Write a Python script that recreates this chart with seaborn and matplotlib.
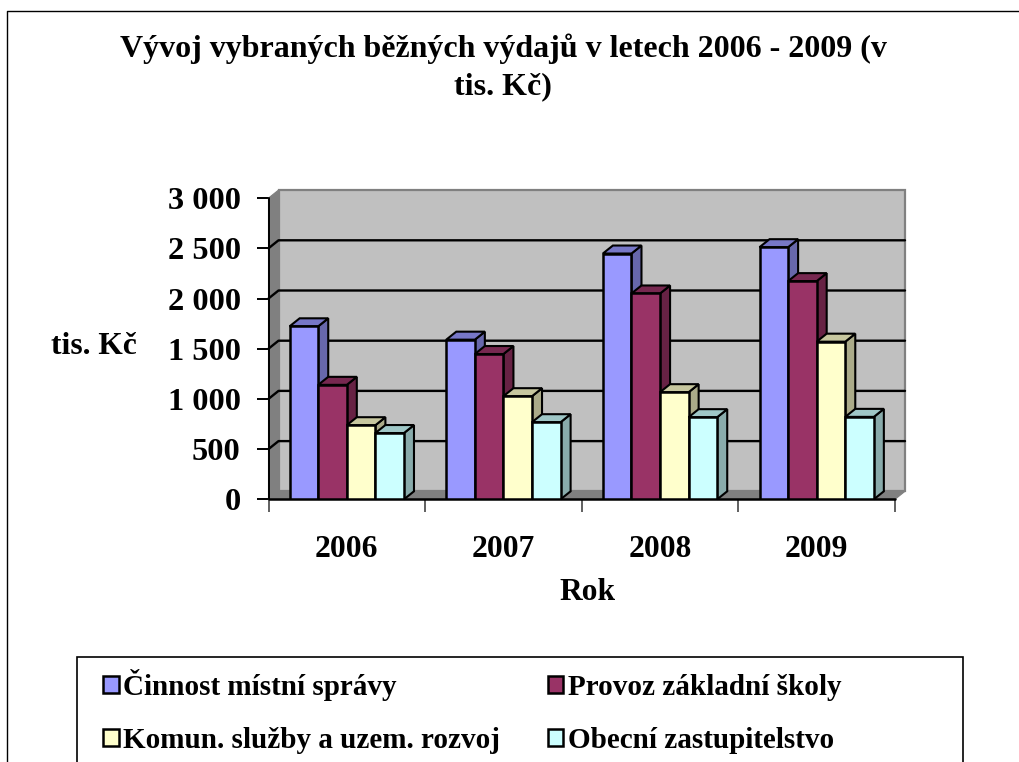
import pandas as pd
import numpy as np
import matplotlib.pyplot as plt
import seaborn as sns
from matplotlib.colors import to_rgb
from matplotlib.patches import Polygon, Rectangle
from matplotlib.lines import Line2D

roky = ['2006', '2007', '2008', '2009']
cinnost = [1723, 1590, 2448, 2511]
skola = [1140, 1447, 2050, 2173]
komun = [738, 1027, 1067, 1570]
zastupitelstvo = [660, 768, 818, 821]
nazvy = ['Činnost místní správy', 'Provoz základní školy',
         'Komun. služby a uzem. rozvoj', 'Obecní zastupitelstvo']
barvy = ['#9999FF', '#993366', '#FFFFCC', '#CCFFFF']
y_ticks = [0, 500, 1000, 1500, 2000, 2500, 3000]
y_labels = ['0', '500', '1 000', '1 500', '2 000', '2 500', '3 000']

W, H = 1019, 762

sns.set_theme(style='white')
plt.rcParams['font.family'] = ['Liberation Serif', 'DejaVu Serif']
plt.rcParams['font.weight'] = 'bold'
plt.rcParams['text.color'] = 'black'
plt.rcParams['xtick.labelcolor'] = 'black'
plt.rcParams['ytick.labelcolor'] = 'black'

df = pd.DataFrame({'rok': roky * 4,
                   'polozka': np.repeat(nazvy, 4),
                   'hodnota': cinnost + skola + komun + zastupitelstvo})

fig = plt.figure(figsize=(W / 100, H / 100), dpi=100)
ax = fig.add_axes([268.5 / W, 1 - 499.3 / H, 626.5 / W, 301.2 / H])

sns.barplot(data=df, x='rok', y='hodnota', hue='polozka', hue_order=nazvy,
            palette=barvy, width=0.73, gap=0, saturation=1, edgecolor='black',
            linewidth=1.8, ax=ax, zorder=5)
ax.set_xlim(-0.5, 3.5)
ax.set_ylim(0, 3000)
for s in ax.spines.values():
    s.set_visible(False)
ax.patch.set_visible(False)

# hloubka 3D efektu (10 px, 8 px)
dx = 10 / (626.5 / 4)
dy = 8 / (301.2 / 3000)


def plocha(body, barva, z, hrana='black', lw=1.5):
    ax.add_patch(Polygon(body, closed=True, facecolor=barva, edgecolor=hrana,
                         linewidth=lw, zorder=z, clip_on=False))


def ztmavit(barva, f):
    return tuple(c * f for c in to_rgb(barva))


# steny a podlaha
plocha([(-0.5 + dx, dy), (3.5 + dx, dy), (3.5 + dx, 3000 + dy), (-0.5 + dx, 3000 + dy)],
       '#C0C0C0', 1, hrana='#808080', lw=1.6)
plocha([(-0.5, 0), (-0.5 + dx, dy), (-0.5 + dx, 3000 + dy), (-0.5, 3000)],
       '#808080', 1, hrana='#808080', lw=0.8)
plocha([(-0.5, 0), (3.5, 0), (3.5 + dx, dy), (-0.5 + dx, dy)], '#808080', 1, hrana='#808080', lw=0.8)

for t in y_ticks[1:-1]:
    ax.add_line(Line2D([-0.5, -0.5 + dx, 3.5 + dx], [t, t + dy, t + dy], color='black',
                       linewidth=1.7, zorder=2, clip_on=False))
ax.add_line(Line2D([-0.5, -0.5], [0, 3000], color='black', linewidth=1.4, zorder=3, clip_on=False))
ax.add_line(Line2D([-0.5, 3.5], [0, 0], color='black', linewidth=1.8, zorder=3, clip_on=False))

# vrchni a bocni strany sloupcu, poradi zleva doprava
sloupce = []
for kontejner, barva in zip(ax.containers, barvy):
    for bar in kontejner:
        sloupce.append((bar, barva))
sloupce.sort(key=lambda s: s[0].get_x())
for i, (bar, barva) in enumerate(sloupce):
    z = 5 + i * 0.1
    x0 = bar.get_x()
    x1 = x0 + bar.get_width()
    v = bar.get_height()
    plocha([(x1, 0), (x1 + dx, dy), (x1 + dx, v + dy), (x1, v)], ztmavit(barva, 0.67), z)
    plocha([(x0, v), (x1, v), (x1 + dx, v + dy), (x0 + dx, v + dy)], ztmavit(barva, 0.78), z)
    bar.set_zorder(z + 0.05)

# osy
ax.set_yticks(y_ticks, y_labels)
ax.tick_params(axis='y', length=9, width=1.4, color='black', pad=11, labelsize=23.3, left=True)
ax.set_xticks(range(4), roky)
ax.tick_params(axis='x', which='major', length=0, pad=26, labelsize=22.7)
ax.set_xticks(np.arange(-0.5, 4), minor=True)
ax.tick_params(axis='x', which='minor', length=9, width=1.4, color='#606060', bottom=True)
ax.set_xlabel('')
ax.set_ylabel('')

fig.text(587 / W, 1 - 592 / H, 'Rok', ha='center', va='center', fontsize=22.7)
fig.text(93.5 / W, 1 - 346 / H, 'tis. Kč', ha='center', va='center', fontsize=22.7)
fig.text(503 / W, 1 - 67 / H,
         'Vývoj vybraných běžných výdajů v letech 2006 - 2009 (v\ntis. Kč)',
         ha='center', va='center', fontsize=23.05, linespacing=1.38)

# legenda, poradi po sloupcich
uchyty, popisky = ax.get_legend_handles_labels()
ax.get_legend().remove()
poradi = [0, 2, 1, 3]
fig.add_artist(Rectangle((77 / W, -0.01), 886 / W, 1 - 657 / H + 0.01, transform=fig.transFigure,
                         facecolor='white', edgecolor='black', linewidth=1.2, zorder=0))
fig.legend([uchyty[i] for i in poradi], [popisky[i] for i in poradi], ncol=2, loc='upper left',
           bbox_to_anchor=(80 / W, 1 - 646 / H), frameon=False, fontsize=21,
           handlelength=0.52, handleheight=0.52, handletextpad=0.15,
           columnspacing=1.65, labelspacing=0.87, borderpad=0.3)

# okraj stranky
fig.add_artist(Line2D([7 / W, 7 / W, 1], [0, 1 - 11 / H, 1 - 11 / H], color='black', linewidth=1,
                      transform=fig.transFigure))

fig.savefig('out.png', dpi=100)
